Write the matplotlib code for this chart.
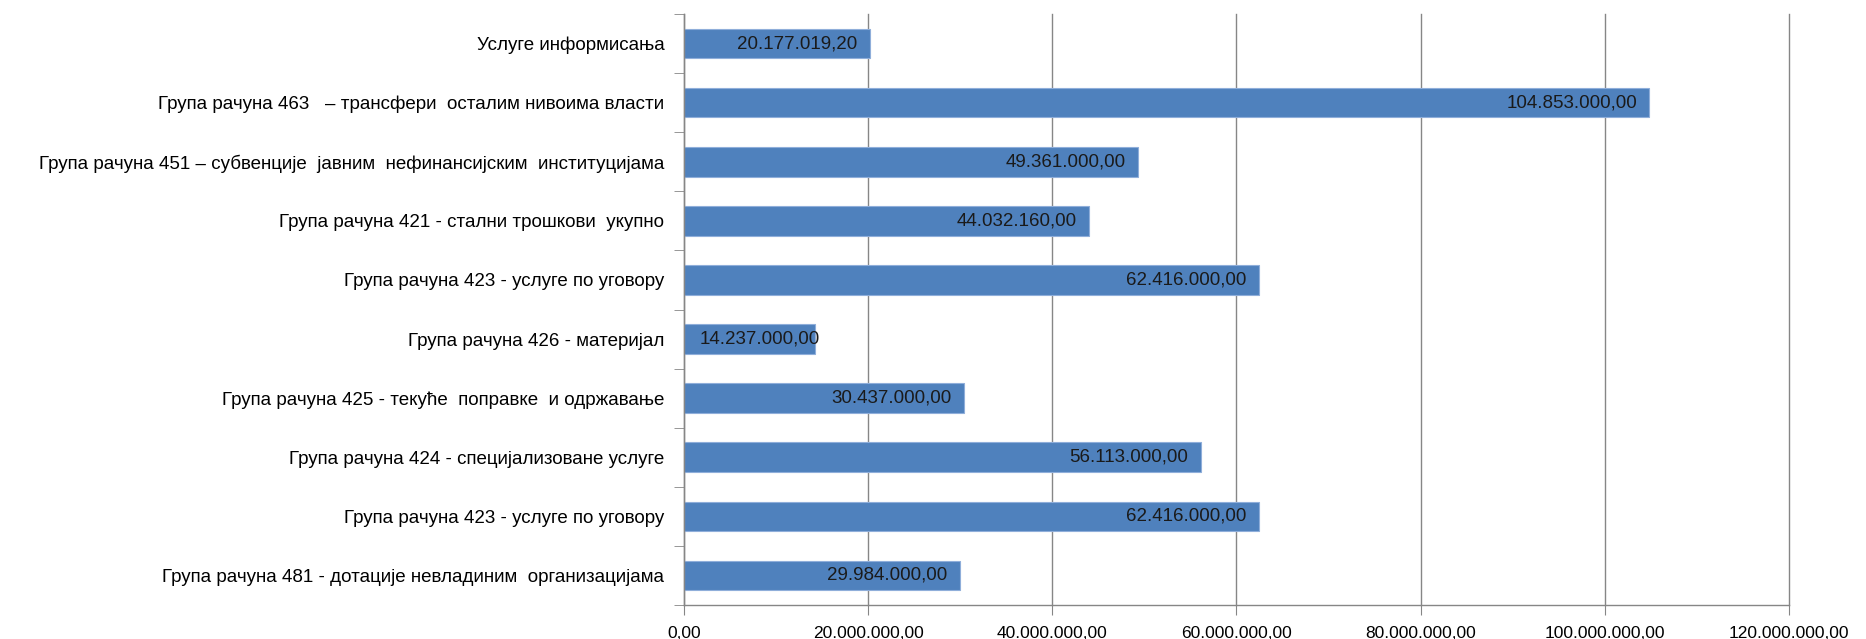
import numpy as np
import matplotlib
matplotlib.use("Agg")
import matplotlib.pyplot as plt
from matplotlib.ticker import FuncFormatter

# categories listed bottom to top
categories = [
    "Група рачуна 481 - дотације невладиним  организацијама",
    "Група рачуна 423 - услуге по уговору",
    "Група рачуна 424 - специјализоване услуге",
    "Група рачуна 425 - текуће  поправке  и одржавање",
    "Група рачуна 426 - материјал",
    "Група рачуна 423 - услуге по уговору",
    "Група рачуна 421 - стални трошкови  укупно",
    "Група рачуна 451 – субвенције  јавним  нефинансијским  институцијама",
    "Група рачуна 463   – трансфери  осталим нивоима власти",
    "Услуге информисања",
]
values = [29984000, 62416000, 56113000, 30437000, 14237000,
          62416000, 44032160, 49361000, 104853000, 20177019.20]
xticks = [0, 20e6, 40e6, 60e6, 80e6, 100e6, 120e6]


def fmt(v):
    s = f"{v:,.2f}"
    return s.replace(",", "X").replace(".", ",").replace("X", ".")


plt.rcParams['font.family'] = ['Liberation Sans', 'DejaVu Sans']
grey = "#868686"

fig = plt.figure(figsize=(18.66, 6.39), dpi=100)
ax = fig.add_axes([0.3665, 0.0532, 0.5922, 0.9248])

y = np.arange(len(categories))
ax.barh(y, values, height=0.5, color="#4F81BD", edgecolor="#8FAEDA",
        linewidth=0.8, zorder=2)

for yi, v in zip(y, values):
    if v < 16e6:
        ax.annotate(fmt(v), (0, yi), xytext=(11, 0), textcoords="offset points",
                    ha="left", va="center", fontsize=13.5, color="#1a1a1a", zorder=3)
    else:
        ax.annotate(fmt(v), (v, yi), xytext=(-9, 0), textcoords="offset points",
                    ha="right", va="center", fontsize=13.5, color="#1a1a1a", zorder=3)

ax.set_xlim(0, 120e6)
ax.set_ylim(-0.5, len(categories) - 0.5)
ax.set_xticks(xticks)
ax.xaxis.set_major_formatter(FuncFormatter(lambda v, p: fmt(v)))
ax.set_yticks(y)
ax.set_yticklabels(categories)
ax.set_yticks(np.arange(-0.5, len(categories)), minor=True)
ax.tick_params(axis="y", which="major", length=0, pad=14, labelsize=13.5)
ax.tick_params(axis="y", which="minor", length=7, color=grey, direction="out")
ax.tick_params(axis="x", length=7, color=grey, direction="out", pad=8, labelsize=12.5)

ax.grid(axis="x", color=grey, linewidth=1, zorder=0)
for gl in ax.get_xgridlines():
    gl.set_clip_on(False)
ax.set_axisbelow(True)
for s in ["top", "right"]:
    ax.spines[s].set_visible(False)
for s in ["left", "bottom"]:
    ax.spines[s].set_color(grey)
    ax.spines[s].set_linewidth(1)

fig.savefig("out.png", dpi=100)
